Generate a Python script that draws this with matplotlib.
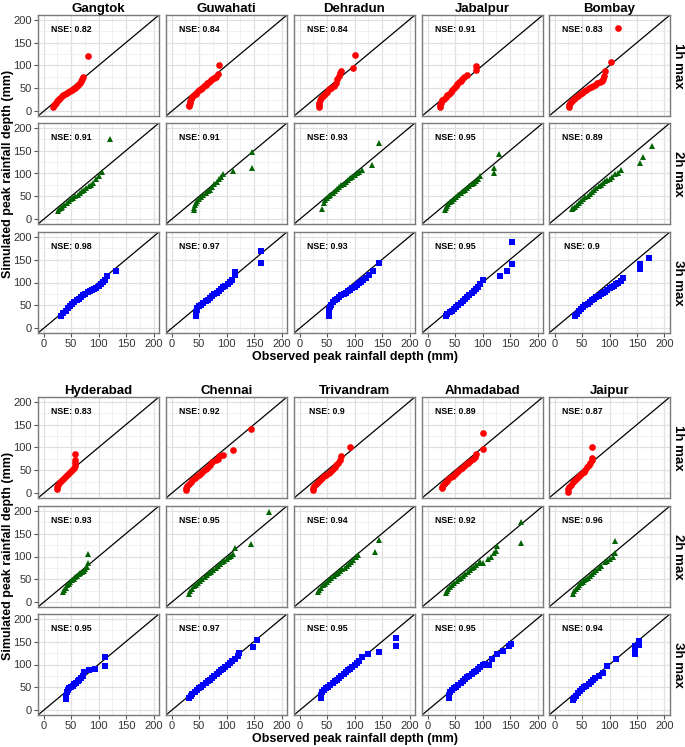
import matplotlib
matplotlib.use("Agg")
import matplotlib.pyplot as plt

plt.rcParams['font.family'] = ['Liberation Sans', 'DejaVu Sans']

# ---------------- data ----------------
cities_top = ["Gangtok", "Guwahati", "Dehradun", "Jabalpur", "Bombay"]
cities_bottom = ["Hyderabad", "Chennai", "Trivandram", "Ahmadabad", "Jaipur"]
durations = ["1h max", "2h max", "3h max"]
tick_values = [0, 50, 100, 150, 200]

nse_1h_top = ["0.82", "0.84", "0.84", "0.91", "0.83"]
nse_2h_top = ["0.91", "0.91", "0.93", "0.95", "0.89"]
nse_3h_top = ["0.98", "0.97", "0.93", "0.95", "0.9"]
nse_1h_bottom = ["0.83", "0.92", "0.9", "0.89", "0.87"]
nse_2h_bottom = ["0.93", "0.95", "0.94", "0.92", "0.96"]
nse_3h_bottom = ["0.95", "0.97", "0.95", "0.95", "0.94"]

# Gangtok
gangtok_1h_obs = [18, 19, 20, 22, 24, 26, 28, 30, 33, 36, 39, 42, 45, 48, 51, 54, 57, 60, 63, 66, 68, 70, 72, 81]
gangtok_1h_sim = [10, 13, 16, 19, 22, 25, 28, 30, 33, 36, 38, 40, 43, 45, 47, 49, 52, 55, 58, 62, 66, 70, 76, 120]
gangtok_2h_obs = [26, 28, 31, 34, 38, 42, 46, 50, 54, 58, 62, 66, 70, 74, 78, 82, 86, 90, 95, 100, 106, 121]
gangtok_2h_sim = [19, 22, 25, 28, 32, 36, 40, 44, 47, 51, 54, 57, 61, 64, 68, 72, 76, 80, 88, 95, 104, 175]
gangtok_3h_obs = [32, 36, 40, 44, 48, 52, 56, 60, 64, 68, 72, 76, 80, 84, 88, 92, 96, 100, 104, 108, 112, 115, 132]
gangtok_3h_sim = [27, 33, 39, 44, 49, 53, 57, 61, 65, 69, 73, 76, 79, 81, 83, 86, 89, 93, 97, 101, 106, 115, 125]
# Guwahati
guwahati_1h_obs = [32, 32, 33, 34, 36, 38, 41, 44, 47, 50, 53, 56, 59, 62, 65, 68, 71, 74, 77, 80, 84, 86]
guwahati_1h_sim = [11, 15, 19, 23, 28, 32, 36, 39, 42, 46, 49, 52, 55, 58, 61, 64, 68, 71, 73, 75, 82, 102]
guwahati_2h_obs = [41, 41, 42, 44, 47, 50, 54, 58, 62, 66, 70, 74, 78, 82, 86, 90, 93, 112, 147, 147]
guwahati_2h_sim = [20, 25, 31, 36, 41, 45, 49, 53, 57, 61, 64, 70, 77, 82, 87, 93, 98, 105, 112, 147]
guwahati_3h_obs = [45, 45, 45, 46, 47, 50, 54, 58, 62, 66, 70, 74, 78, 82, 86, 90, 94, 98, 102, 106, 110, 115, 116, 162, 162]
guwahati_3h_sim = [26, 31, 36, 41, 45, 48, 52, 56, 59, 62, 66, 70, 74, 78, 82, 86, 90, 93, 97, 101, 105, 116, 122, 143, 169]
# Dehradun
dehradun_1h_obs = [35, 35, 36, 37, 39, 42, 46, 50, 54, 58, 62, 66, 69, 72, 74, 76, 97, 101]
dehradun_1h_sim = [10, 14, 19, 24, 29, 34, 39, 43, 48, 52, 56, 62, 70, 78, 84, 89, 94, 122]
dehradun_2h_obs = [40, 44, 47, 50, 53, 56, 60, 64, 68, 72, 76, 80, 84, 88, 92, 96, 100, 104, 108, 113, 132, 145]
dehradun_2h_sim = [22, 35, 42, 46, 50, 54, 58, 62, 66, 70, 74, 78, 82, 86, 90, 93, 97, 101, 104, 108, 118, 167]
dehradun_3h_obs = [53, 53, 54, 56, 58, 61, 64, 68, 72, 76, 80, 84, 88, 92, 96, 100, 104, 108, 112, 116, 120, 126, 134, 145]
dehradun_3h_sim = [27, 33, 40, 46, 52, 57, 61, 65, 69, 72, 75, 78, 81, 84, 87, 91, 94, 98, 102, 106, 110, 117, 125, 142]
# Jabalpur
jabalpur_1h_obs = [22, 23, 25, 27, 30, 33, 36, 39, 42, 45, 48, 51, 54, 57, 60, 63, 66, 72, 89, 89]
jabalpur_1h_sim = [9, 14, 19, 24, 28, 31, 35, 39, 43, 47, 51, 55, 59, 63, 67, 71, 75, 80, 91, 98]
jabalpur_2h_obs = [32, 33, 35, 38, 41, 44, 48, 52, 56, 60, 64, 68, 72, 76, 80, 84, 88, 92, 96, 121, 121, 130]
jabalpur_2h_sim = [20, 25, 29, 33, 37, 41, 45, 49, 53, 57, 61, 65, 69, 73, 77, 80, 84, 88, 95, 100, 111, 143]
jabalpur_3h_obs = [33, 36, 40, 44, 48, 52, 56, 60, 64, 68, 72, 76, 80, 84, 88, 92, 96, 100, 131, 144, 154, 154]
jabalpur_3h_sim = [26, 31, 35, 39, 43, 47, 51, 55, 59, 63, 68, 73, 77, 82, 86, 91, 96, 105, 114, 125, 141, 188]
# Bombay
bombay_1h_obs = [26, 27, 29, 32, 35, 38, 42, 46, 50, 54, 58, 62, 66, 70, 74, 78, 82, 86, 88, 90, 91, 102, 116]
bombay_1h_sim = [10, 14, 18, 22, 26, 29, 33, 37, 41, 44, 47, 50, 53, 56, 58, 61, 64, 66, 70, 78, 89, 107, 182]
bombay_2h_obs = [32, 34, 37, 40, 44, 48, 52, 56, 60, 64, 68, 72, 76, 80, 84, 88, 92, 96, 100, 105, 110, 115, 121, 156, 161, 178]
bombay_2h_sim = [22, 25, 28, 32, 36, 40, 44, 48, 52, 56, 60, 64, 68, 72, 75, 79, 83, 86, 89, 93, 98, 101, 107, 122, 135, 160]
bombay_3h_obs = [37, 40, 44, 48, 52, 56, 60, 64, 68, 72, 76, 80, 84, 88, 92, 96, 100, 104, 108, 112, 116, 120, 124, 156, 156, 171]
bombay_3h_sim = [26, 32, 37, 42, 46, 50, 54, 58, 61, 64, 68, 71, 74, 77, 80, 84, 87, 90, 93, 97, 100, 104, 110, 130, 140, 154]
# Hyderabad
hyderabad_1h_obs = [24, 25, 27, 30, 33, 37, 41, 45, 49, 52, 55, 57, 58, 58, 58]
hyderabad_1h_sim = [9, 14, 19, 24, 29, 34, 38, 42, 46, 50, 55, 60, 66, 72, 86]
hyderabad_2h_obs = [35, 37, 40, 43, 46, 49, 52, 55, 58, 61, 64, 67, 70, 73, 76, 79, 80, 80]
hyderabad_2h_sim = [22, 27, 32, 37, 41, 45, 49, 52, 55, 58, 61, 63, 66, 68, 72, 78, 85, 105]
hyderabad_3h_obs = [41, 41, 42, 44, 47, 50, 53, 56, 59, 62, 65, 68, 71, 73, 82, 93, 111, 111]
hyderabad_3h_sim = [25, 32, 40, 45, 48, 51, 54, 57, 60, 63, 66, 70, 76, 83, 88, 91, 97, 117]
# Chennai
chennai_1h_obs = [26, 27, 29, 32, 35, 38, 42, 46, 50, 54, 58, 62, 66, 70, 74, 80, 84, 86, 93, 112, 145]
chennai_1h_sim = [7, 12, 17, 21, 25, 29, 33, 37, 41, 45, 49, 53, 58, 62, 68, 72, 76, 82, 83, 95, 140]
chennai_2h_obs = [32, 34, 37, 40, 44, 48, 52, 56, 60, 64, 68, 72, 76, 80, 84, 88, 92, 96, 100, 104, 108, 112, 116, 145, 177]
chennai_2h_sim = [19, 25, 30, 35, 39, 43, 47, 51, 55, 59, 63, 67, 71, 75, 79, 83, 87, 91, 95, 99, 102, 106, 118, 127, 196]
chennai_3h_obs = [32, 35, 38, 42, 46, 50, 54, 58, 62, 66, 70, 74, 78, 82, 86, 90, 94, 98, 102, 106, 110, 115, 120, 123, 149, 156]
chennai_3h_sim = [28, 31, 35, 40, 44, 48, 52, 56, 59, 63, 67, 71, 75, 79, 83, 87, 91, 95, 99, 103, 107, 112, 118, 124, 138, 154]
# Trivandram
trivandram_1h_obs = [24, 25, 27, 30, 33, 37, 41, 45, 49, 53, 57, 61, 64, 67, 70, 73, 76, 91]
trivandram_1h_sim = [7, 12, 17, 21, 25, 29, 33, 37, 41, 45, 49, 53, 57, 61, 66, 73, 82, 100]
trivandram_2h_obs = [34, 36, 39, 42, 46, 50, 54, 58, 62, 66, 70, 74, 78, 82, 86, 90, 94, 98, 102, 106, 138, 145]
trivandram_2h_sim = [22, 27, 32, 37, 41, 45, 49, 53, 57, 61, 65, 68, 72, 76, 80, 84, 88, 92, 98, 104, 109, 136]
trivandram_3h_obs = [39, 39, 41, 44, 48, 52, 56, 60, 64, 68, 72, 76, 80, 84, 88, 92, 96, 100, 104, 108, 113, 124, 145, 175, 175]
trivandram_3h_sim = [26, 34, 40, 44, 48, 52, 55, 59, 63, 67, 71, 75, 79, 83, 87, 91, 95, 99, 103, 108, 116, 122, 127, 140, 158]
# Ahmadabad
ahmadabad_1h_obs = [26, 27, 29, 32, 35, 38, 42, 46, 50, 54, 58, 62, 66, 70, 74, 78, 82, 86, 89, 100, 100]
ahmadabad_1h_sim = [11, 15, 19, 23, 27, 31, 35, 39, 43, 47, 51, 55, 59, 63, 67, 71, 75, 79, 85, 96, 132]
ahmadabad_2h_obs = [33, 35, 38, 41, 45, 49, 53, 57, 61, 65, 69, 73, 77, 81, 85, 89, 93, 96, 100, 110, 115, 120, 124, 126, 170, 170]
ahmadabad_2h_sim = [20, 25, 30, 34, 38, 42, 46, 50, 54, 58, 62, 66, 70, 74, 78, 82, 86, 89, 86, 95, 100, 108, 112, 122, 129, 175]
ahmadabad_3h_obs = [39, 39, 41, 44, 48, 52, 56, 60, 64, 68, 72, 76, 80, 84, 88, 92, 96, 100, 105, 111, 118, 126, 137, 148, 152]
ahmadabad_3h_sim = [26, 34, 40, 44, 48, 52, 56, 60, 64, 68, 72, 76, 80, 83, 86, 90, 94, 98, 101, 100, 112, 122, 129, 141, 144]
# Jaipur
jaipur_1h_obs = [24, 25, 27, 30, 33, 37, 41, 45, 49, 53, 56, 59, 62, 65, 68, 69, 69]
jaipur_1h_sim = [4, 9, 14, 19, 24, 29, 33, 37, 42, 47, 52, 57, 61, 66, 72, 78, 100]
jaipur_2h_obs = [34, 36, 39, 42, 45, 48, 51, 54, 57, 60, 64, 68, 72, 76, 80, 85, 91, 96, 101, 106, 110, 110]
jaipur_2h_sim = [19, 24, 29, 34, 38, 42, 45, 48, 51, 54, 58, 62, 66, 70, 75, 80, 88, 90, 95, 100, 107, 133]
jaipur_3h_obs = [34, 36, 39, 42, 46, 50, 54, 58, 62, 66, 70, 74, 80, 88, 95, 112, 147, 147, 147, 153, 153]
jaipur_3h_sim = [22, 27, 32, 37, 42, 46, 50, 54, 58, 62, 66, 70, 75, 82, 96, 111, 122, 129, 140, 143, 152]

data = {
    "Gangtok": [(gangtok_1h_obs, gangtok_1h_sim), (gangtok_2h_obs, gangtok_2h_sim), (gangtok_3h_obs, gangtok_3h_sim)],
    "Guwahati": [(guwahati_1h_obs, guwahati_1h_sim), (guwahati_2h_obs, guwahati_2h_sim), (guwahati_3h_obs, guwahati_3h_sim)],
    "Dehradun": [(dehradun_1h_obs, dehradun_1h_sim), (dehradun_2h_obs, dehradun_2h_sim), (dehradun_3h_obs, dehradun_3h_sim)],
    "Jabalpur": [(jabalpur_1h_obs, jabalpur_1h_sim), (jabalpur_2h_obs, jabalpur_2h_sim), (jabalpur_3h_obs, jabalpur_3h_sim)],
    "Bombay": [(bombay_1h_obs, bombay_1h_sim), (bombay_2h_obs, bombay_2h_sim), (bombay_3h_obs, bombay_3h_sim)],
    "Hyderabad": [(hyderabad_1h_obs, hyderabad_1h_sim), (hyderabad_2h_obs, hyderabad_2h_sim), (hyderabad_3h_obs, hyderabad_3h_sim)],
    "Chennai": [(chennai_1h_obs, chennai_1h_sim), (chennai_2h_obs, chennai_2h_sim), (chennai_3h_obs, chennai_3h_sim)],
    "Trivandram": [(trivandram_1h_obs, trivandram_1h_sim), (trivandram_2h_obs, trivandram_2h_sim), (trivandram_3h_obs, trivandram_3h_sim)],
    "Ahmadabad": [(ahmadabad_1h_obs, ahmadabad_1h_sim), (ahmadabad_2h_obs, ahmadabad_2h_sim), (ahmadabad_3h_obs, ahmadabad_3h_sim)],
    "Jaipur": [(jaipur_1h_obs, jaipur_1h_sim), (jaipur_2h_obs, jaipur_2h_sim), (jaipur_3h_obs, jaipur_3h_sim)],
}
nse_top = [nse_1h_top, nse_2h_top, nse_3h_top]
nse_bottom = [nse_1h_bottom, nse_2h_bottom, nse_3h_bottom]

# ---------------- style ----------------
W, H = 685, 747
fig = plt.figure(figsize=(W / 100, H / 100), dpi=100)
fig.patch.set_facecolor("white")

col_left = [38, 166, 294, 422, 549]
panel_w = 121
panel_h = 101
blocks = [
    dict(cities=cities_top, nse=nse_top, rows=[15, 123, 232]),
    dict(cities=cities_bottom, nse=nse_bottom, rows=[397, 506, 614]),
]
styles = [("o", "#FF0000"), ("^", "#006400"), ("s", "#0000FF")]
lims = (-10, 210)


def add_px_axes(left, top, w, h):
    return fig.add_axes([left / W, 1 - (top + h) / H, w / W, h / H])


for b in blocks:
    rows = b["rows"]
    for r, top in enumerate(rows):
        for c, left in enumerate(col_left):
            city = b["cities"][c]
            ax = add_px_axes(left, top, panel_w, panel_h)
            ax.set_xlim(*lims)
            ax.set_ylim(*lims)
            ax.set_facecolor("white")
            ax.set_xticks(tick_values)
            ax.set_yticks(tick_values)
            ax.set_xticks([25, 75, 125, 175], minor=True)
            ax.set_yticks([25, 75, 125, 175], minor=True)
            ax.grid(True, which="major", color="#e0e0e0", linewidth=0.9, zorder=0)
            ax.grid(True, which="minor", color="#efefef", linewidth=0.6, zorder=0)
            ax.set_axisbelow(True)
            for sp in ax.spines.values():
                sp.set_color("#7a7a7a")
                sp.set_linewidth(1.0)
            ax.tick_params(which="minor", length=0)
            ax.tick_params(which="major", length=3, color="#555555", width=0.8,
                           labelsize=8, labelcolor="#333333", pad=1.5)
            if c != 0:
                ax.tick_params(axis="y", which="major", length=0, labelleft=False)
            if r != 2:
                ax.tick_params(axis="x", which="major", length=0, labelbottom=False)
            ax.plot(lims, lims, color="black", linewidth=0.9, zorder=2)
            obs, sim = data[city][r]
            mk, col = styles[r]
            ms = 4.8 if mk == "o" else 4.6
            ax.plot(obs, sim, linestyle="none", marker=mk, color=col,
                    markersize=ms, markeredgewidth=0, zorder=3)
            ax.text(50, 178, "NSE: " + b["nse"][r][c], fontsize=6.3, fontweight="bold",
                    ha="center", va="center", zorder=4)
            if r == 0:
                ax.set_title(city, fontsize=9.5, fontweight="bold", pad=2.5)
            if c == 4:
                ax.text(1.065, 0.5, durations[r], transform=ax.transAxes, rotation=-90,
                        fontsize=9.5, fontweight="bold", ha="center", va="center")
    y0 = rows[0]
    y1 = rows[2] + panel_h
    fig.text(8 / W, 1 - ((y0 + y1) / 2) / H, "Simulated peak rainfall depth (mm)",
             rotation=90, fontsize=9, fontweight="bold", ha="center", va="center")
    fig.text(355 / W, 1 - (y1 + 24) / H, "Observed peak rainfall depth (mm)",
             fontsize=9, fontweight="bold", ha="center", va="center")

fig.savefig("out.png", dpi=100, facecolor="white")
